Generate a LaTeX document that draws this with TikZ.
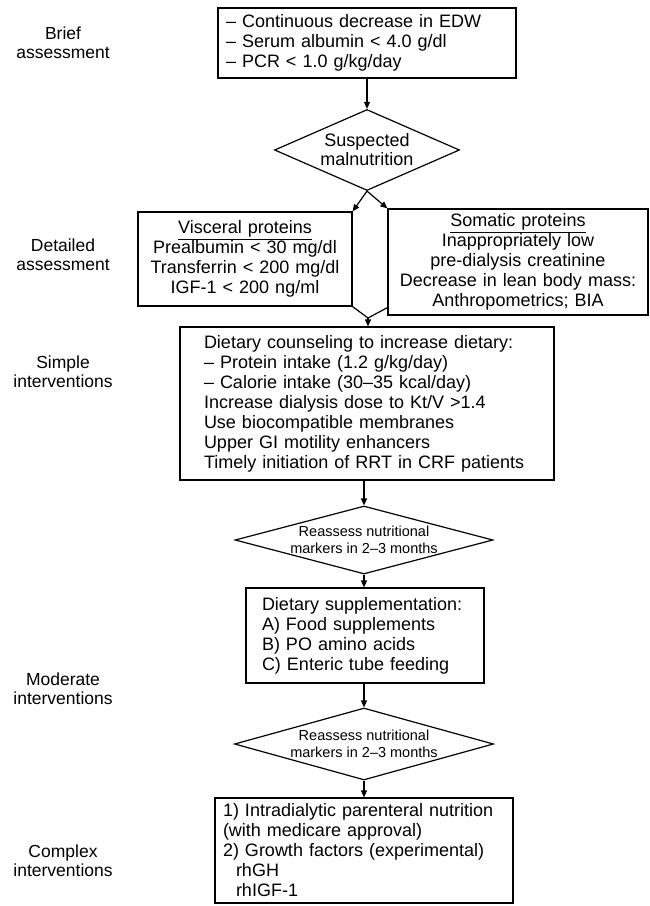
\documentclass[tikz,border=0pt]{standalone}
\usepackage{fontspec}
\setmainfont{Liberation Sans}
\usetikzlibrary{shapes.geometric,arrows.meta,calc}
\begin{document}
\begin{tikzpicture}[x=1pt,y=-1pt,
  every node/.style={font=\fontsize{18}{20}\selectfont},
  bx/.style={draw,line width=1.2pt,inner ysep=0pt},
  dm/.style={draw,line width=1.2pt,diamond,inner sep=0pt},
  dtext/.style={align=center,inner sep=0pt,font=\fontsize{14.5}{17}\selectfont},
  lab/.style={align=center,inner sep=0pt,font=\fontsize{17.5}{19}\selectfont},
  arr/.style={line width=1.2pt,-{Triangle[length=7pt,width=6pt]}},
  ln/.style={line width=1.2pt}]
\useasboundingbox (0,0) rectangle (650,906);

% left labels
\node[lab] (l1) at (63,43) {Brief\\assessment};
\node[lab] (l2) at (63,255) {Detailed\\assessment};
\node[lab] (l3) at (63,372) {Simple\\interventions};
\node[lab] (l4) at (63,689) {Moderate\\interventions};
\node[lab] (l5) at (63,861) {Complex\\interventions};

% top box
\node[bx,minimum height=70pt,text width=282pt,inner xsep=8pt,align=left] (top) at (367,43)
  {– Continuous decrease in EDW\\– Serum albumin < 4.0 g/dl\\– PCR < 1.0 g/kg/day};

% diamond 1
\node[dm,minimum width=185pt,minimum height=81pt] (d1) at (367,150) {};
\node[dtext,font=\fontsize{18}{19}\selectfont] (t1) at (d1.center) {Suspected\\malnutrition};

% visceral / somatic
\node[bx,minimum height=94pt,text width=200pt,inner xsep=7pt,align=center] (vis) at (245,259)
  {\underline{Visceral proteins}\\Prealbumin < 30 mg/dl\\Transferrin < 200 mg/dl\\IGF-1 < 200 ng/ml};
\node[bx,minimum height=106pt,text width=248pt,inner xsep=6pt,align=center] (som) at (518,262)
  {\underline{Somatic proteins}\\Inappropriately low\\pre-dialysis creatinine\\Decrease in lean body mass:\\Anthropometrics; BIA};

\coordinate (j) at (368,318);

% simple interventions
\node[bx,minimum height=153pt,text width=326pt,inner xsep=24pt,align=left] (simple) at (367,403.5)
  {Dietary counseling to increase dietary:\\
   – Protein intake (1.2 g/kg/day)\\
   – Calorie intake (30–35 kcal/day)\\
   Increase dialysis dose to Kt/V >1.4\\
   Use biocompatible membranes\\
   Upper GI motility enhancers\\
   Timely initiation of RRT in CRF patients};

% diamond 2
\node[dm,minimum width=258pt,minimum height=68pt] (d2) at (364,540) {};
\node[dtext] (t2) at (d2.center) {Reassess nutritional\\markers in 2–3 months};

% moderate
\node[bx,minimum height=95pt,text width=206pt,inner xsep=16pt,align=left] (mod) at (365,635.5)
  {Dietary supplementation:\\A) Food supplements\\B) PO amino acids\\C) Enteric tube feeding};

% diamond 3
\node[dm,minimum width=259pt,minimum height=72pt] (d3) at (364,744) {};
\node[dtext] (t3) at (d3.center) {Reassess nutritional\\markers in 2–3 months};

% complex
\node[bx,minimum height=105pt,text width=282pt,inner xsep=8pt,align=left] (bot) at (364,850.5)
  {1) Intradialytic parenteral nutrition\\
   (with medicare approval)\\
   2) Growth factors (experimental)\\
   \hspace*{13pt}rhGH\\
   \hspace*{13pt}rhIGF-1};

% connectors
\draw[arr] (top.south) -- (d1.north);
\draw[arr] (d1.south) -- (vis.north east);
\draw[arr] (d1.south) -- (som.north west);
\draw[ln] (vis.south east) -- (j);
\draw[ln] ($(som.south west)+(0,-8)$) -- (j);
\draw[arr] (j) -- (j |- simple.north);
\draw[arr] (simple.south -| d2.north) -- (d2.north);
\draw[arr] (d2.south) -- (mod.north -| d2.south);
\draw[arr] (mod.south -| d3.north) -- (d3.north);
\draw[arr] (d3.south) -- (bot.north);
\end{tikzpicture}
\end{document}
